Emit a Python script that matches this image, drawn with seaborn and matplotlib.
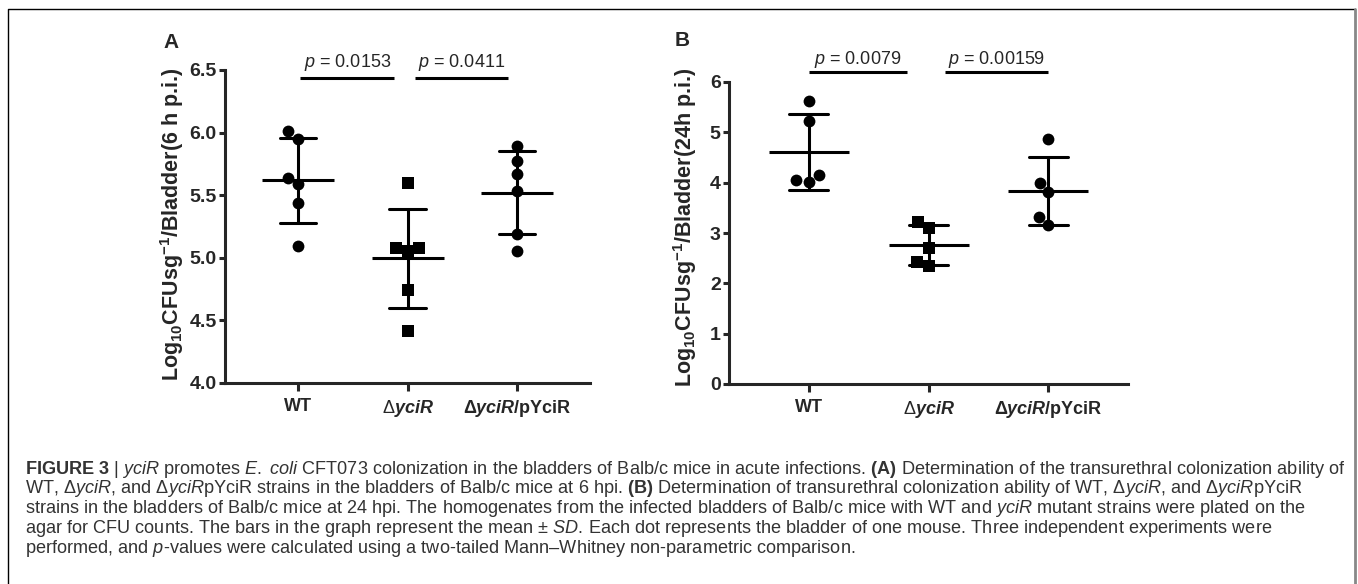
import numpy as np
import pandas as pd
import matplotlib
matplotlib.use("Agg")
import matplotlib.pyplot as plt
from matplotlib.lines import Line2D
import seaborn as sns

# groups and labels
GROUPS = ["WT", "dyciR", "dyciR/pYciR"]
TICK_LABELS = ["WT", r"$\Delta\mathbfit{yciR}$", r"Δ$\mathbfit{yciR}$/pYciR"]
MARKERS = ["o", "s", "o"]

# panel A: 6 h p.i. (log10 CFU/g bladder)
a_wt = [6.01, 5.95, 5.64, 5.585, 5.44, 5.09]
a_mut = [5.60, 5.08, 5.05, 5.08, 4.745, 4.415]
a_comp = [5.895, 5.77, 5.67, 5.53, 5.19, 5.055]
a_pvals = ["0.0153", "0.0411"]

# panel B: 24 h p.i.
b_wt = [5.63, 5.22, 4.145, 4.02, 4.045]
b_mut = [3.225, 3.095, 2.695, 2.35, 2.415]
b_comp = [4.86, 4.0, 3.82, 3.32, 3.16]
b_pvals = ["0.0079", "0.00159"]

CAPTION = [
    r"$\mathbf{FIGURE\ 3}$ | $\mathit{yciR}$ promotes $\mathit{E.\ coli}$ CFT073 colonization in the bladders of Balb/c mice in acute infections. $\mathbf{(A)}$ Determination of the transurethral colonization ability of",
    r"WT, Δ$\mathit{yciR}$, and Δ$\mathit{yciR}$pYciR strains in the bladders of Balb/c mice at 6 hpi. $\mathbf{(B)}$ Determination of transurethral colonization ability of WT, Δ$\mathit{yciR}$, and Δ$\mathit{yciR}$pYciR",
    r"strains in the bladders of Balb/c mice at 24 hpi. The homogenates from the infected bladders of Balb/c mice with WT and $\mathit{yciR}$ mutant strains were plated on the",
    r"agar for CFU counts. The bars in the graph represent the mean ± $\mathit{SD}$. Each dot represents the bladder of one mouse. Three independent experiments were",
    r"performed, and $\mathit{p}$-values were calculated using a two-tailed Mann–Whitney non-parametric comparison.",
]

FONT = "Liberation Sans"

sns.set_style("ticks")
plt.rcParams["font.family"] = [FONT, "DejaVu Sans"]
plt.rcParams["mathtext.fontset"] = "custom"
plt.rcParams["mathtext.rm"] = FONT
plt.rcParams["mathtext.it"] = FONT + ":italic"
plt.rcParams["mathtext.bf"] = FONT + ":bold"
plt.rcParams["mathtext.bfit"] = FONT + ":bold:italic"

LW = 2.2


def make_df(values):
    rows = []
    for g, vals in zip(GROUPS, values):
        for v in vals:
            rows.append({"group": g, "value": v})
    return pd.DataFrame(rows)


def draw_panel(ax, df, ylim, yticks, yfmt, ylabel, pvals, spans, bar_y, text_y):
    xlim = (-0.665, 2.665)
    ax.set_xlim(*xlim)
    ax.set_ylim(*ylim)

    for g, m in zip(GROUPS, MARKERS):
        sns.swarmplot(data=df[df["group"] == g], x="group", y="value", order=GROUPS,
                      marker=m, color="black", size=8.5, ax=ax, zorder=3)

    # mean line width = 0.66 category units
    fig = ax.figure
    ax_w_pt = ax.get_position().width * fig.get_figwidth() * 72
    mean_ms = 0.66 * ax_w_pt / (xlim[1] - xlim[0])
    sns.pointplot(data=df, x="group", y="value", order=GROUPS, errorbar="sd",
                  capsize=0.33, color="black", linestyle="none", marker="_",
                  markersize=mean_ms, markeredgewidth=LW,
                  err_kws={"linewidth": LW}, ax=ax)

    ax.set_xlim(*xlim)
    ax.set_ylim(*ylim)
    ax.set_yticks(yticks)
    ax.set_yticklabels([yfmt.format(t) for t in yticks])
    ax.set_xticks(range(len(GROUPS)))
    ax.set_xticklabels(TICK_LABELS, fontsize=13, fontweight="bold")
    ax.set_xlabel("")
    ax.set_ylabel(ylabel, fontsize=15.5, fontweight="bold", va="center")
    sns.despine(ax=ax)
    for s in ["left", "bottom"]:
        ax.spines[s].set_linewidth(LW)
    ax.tick_params(axis="y", length=4, width=LW, pad=2, labelsize=14)
    ax.tick_params(axis="x", length=6, width=LW, pad=5)
    for t in ax.get_yticklabels():
        t.set_fontweight("bold")

    # significance bars
    for (x0, x1), p in zip(spans, pvals):
        ax.plot([x0, x1], [bar_y, bar_y], color="black", lw=LW, clip_on=False,
                solid_capstyle="butt")
        ax.text((x0 + x1) / 2, text_y, r"$\mathit{p}$ = " + p, ha="center",
                va="baseline", fontsize=13)


fig = plt.figure(figsize=(13.58, 5.84), dpi=100)
W, H = 1358, 584

ax_a = fig.add_axes([225 / W, 1 - 382.7 / H, 365 / W, 312.7 / H])
ax_b = fig.add_axes([729 / W, 1 - 384 / H, 399 / W, 302 / H])

draw_panel(ax_a, make_df([a_wt, a_mut, a_comp]), (4.0, 6.5), [4.0, 4.5, 5.0, 5.5, 6.0, 6.5],
           "{:.1f}", r"Log$_{\mathbf{10}}$CFUsg$^{\mathbf{-1}}$/Bladder(6 h p.i.)",
           a_pvals, [(0.02, 0.88), (1.07, 1.92)], 6.436, 6.523)
draw_panel(ax_b, make_df([b_wt, b_mut, b_comp]), (0, 6), [0, 1, 2, 3, 4, 5, 6],
           "{:d}", r"Log$_{\mathbf{10}}$CFUsg$^{\mathbf{-1}}$/Bladder(24h p.i.)",
           b_pvals, [(0.0, 0.82), (1.14, 2.0)], 6.19, 6.352)

ax_a.yaxis.set_label_coords(-0.145, 0.507)
ax_b.yaxis.set_label_coords(-0.11, 0.52)

fig.text(171 / W, 1 - 42 / H, "A", fontsize=15, fontweight="bold",
         ha="center", va="center")
fig.text(682 / W, 1 - 41 / H, "B", fontsize=15, fontweight="bold",
         ha="center", va="center")

# caption: size chosen so the first line spans the frame width
renderer = fig.canvas.get_renderer()
probe = fig.text(0, 0, CAPTION[0], fontsize=12)
cap_size = 12 * 1318 / probe.get_window_extent(renderer).width
probe.remove()
for i, line in enumerate(CAPTION):
    fig.text(25 / W, 1 - (469 + 19.8 * i) / H, line, fontsize=cap_size, color="#333333",
             ha="left", va="center")

# frame around figure + caption
fig.add_artist(Line2D([8 / W, 8 / W, 1355 / W], [0, 1 - 9 / H, 1 - 9 / H],
                      transform=fig.transFigure, color="black", lw=1.0))
fig.add_artist(Line2D([1355 / W, 1355 / W], [0, 1 - 9 / H],
                      transform=fig.transFigure, color="#888888", lw=2.0))

fig.savefig("out.png", dpi=100)
